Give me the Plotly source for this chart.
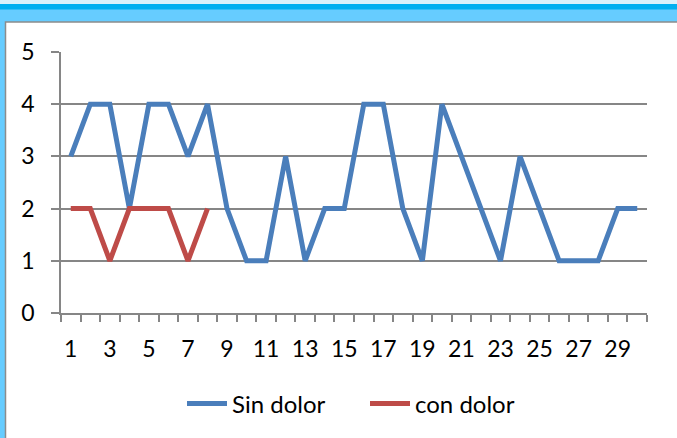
import plotly.graph_objects as go

categories = list(range(1, 31))
sin_dolor = [3, 4, 4, 2, 4, 4, 3, 4, 2, 1, 1, 3, 1, 2, 2, 4, 4, 2, 1, 4, 3, 2, 1, 3, 2, 1, 1, 1, 2, 2]
con_dolor = [2, 2, 1, 2, 2, 2, 1, 2]
tick_labels = [str(v) for v in range(1, 31, 2)]

W, H = 677, 438
L, R, T, B = 61, 647, 52, 313

def px(x):
    return (x - L) / (R - L)

def py(y):
    return (B - y) / (B - T)

fig = go.Figure()
fig.add_trace(go.Scatter(x=categories, y=sin_dolor, mode="lines", name="Sin dolor",
                         line=dict(color="#4A7EBB", width=5, shape="linear"), cliponaxis=False))
fig.add_trace(go.Scatter(x=categories[:len(con_dolor)], y=con_dolor, mode="lines", name="con dolor",
                         line=dict(color="#BE4B48", width=5), cliponaxis=False))

shapes = [
    dict(type="rect", xref="paper", yref="paper", x0=px(-5), x1=px(W + 5), y0=py(-5), y1=py(4),
         fillcolor="#D9F2FB", line=dict(width=0), layer="below"),
    dict(type="rect", xref="paper", yref="paper", x0=px(-5), x1=px(W + 5), y0=py(4), y1=py(9.5),
         fillcolor="#00B0F0", line=dict(width=0), layer="below"),
    dict(type="rect", xref="paper", yref="paper", x0=px(5.5), x1=px(W + 10), y0=py(22), y1=py(H + 10),
         fillcolor="white", line=dict(color="#8C8C8C", width=1.5), layer="below"),
]

fig.update_layout(
    width=W, height=H,
    margin=dict(l=L, r=W - R, t=T, b=H - B),
    paper_bgcolor="#66CCFF",
    plot_bgcolor="rgba(0,0,0,0)",
    font=dict(family="Lato, Open Sans, sans-serif", size=23, color="#000000"),
    shapes=shapes,
    showlegend=True,
    legend=dict(orientation="h", x=px(365), xanchor="center", y=py(404), yanchor="middle",
                font=dict(size=24), bgcolor="rgba(0,0,0,0)", itemwidth=40, tracegroupgap=0,
                entrywidth=128, entrywidthmode="pixels"),
    xaxis=dict(
        range=[0.5, 30.5], tickmode="array", tickvals=list(range(1, 31, 2)), ticktext=tick_labels,
        ticks="", showgrid=False, zeroline=False, showline=True, linecolor="#868686", linewidth=1.5,
        ticklabelstandoff=15,
        minor=dict(tickmode="array", tickvals=[i + 0.5 for i in range(0, 31)], ticks="outside",
                   ticklen=7, tickcolor="#868686", tickwidth=1.5, showgrid=False),
    ),
    yaxis=dict(
        range=[0, 5], dtick=1, ticks="outside", ticklen=8, tickcolor="#868686", tickwidth=1.5,
        showgrid=True, gridcolor="#868686", gridwidth=1.5, zeroline=False,
        showline=True, linecolor="#868686", linewidth=1.5, ticklabelstandoff=12,
    ),
)

fig.write_html("out.html")
